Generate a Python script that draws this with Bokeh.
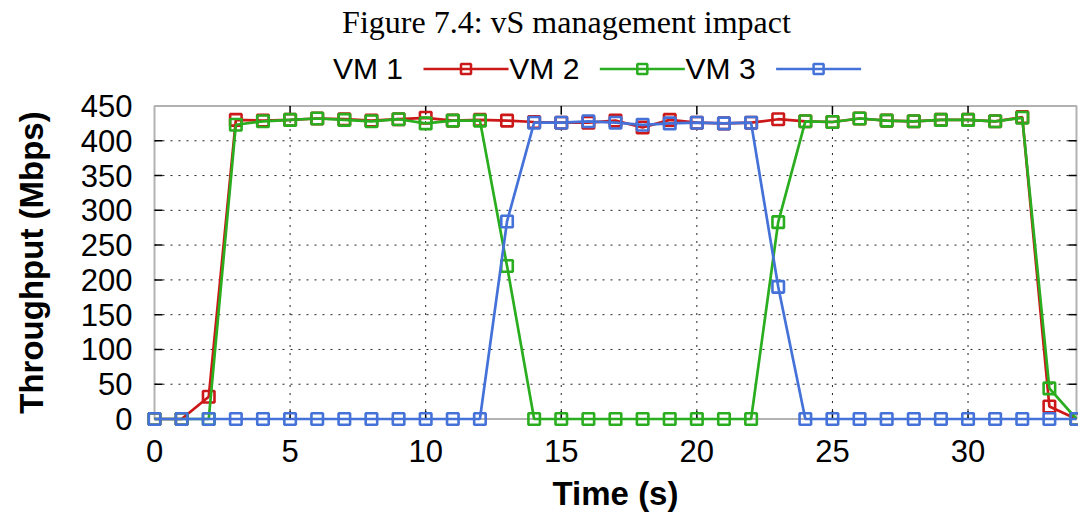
import math
from bokeh.plotting import figure
from bokeh.models import Range1d, BoxAnnotation
from bokeh.embed import file_html
from bokeh.resources import INLINE
from bokeh.core.properties import value

# ---------------- data ----------------
time_s = list(range(35))
vm1 = [0, 0, 32, 430, 429, 430, 432, 431, 429, 431, 433, 429, 430, 429, 427, 426, 426,
       429, 419, 430, 426, 425, 426, 431, 428, 427, 432, 429, 428, 430, 430, 428, 434, 18, 0]
vm2 = [0, 0, 0, 423, 428, 430, 432, 430, 428, 431, 425, 429, 429, 220, 0, 0, 0, 0, 0, 0,
       0, 0, 0, 283, 428, 427, 432, 429, 428, 430, 430, 428, 433, 44, 0]
vm3 = [0, 0, 0, 0, 0, 0, 0, 0, 0, 0, 0, 0, 0, 284, 426, 426, 428, 426, 423, 425, 426, 425,
       426, 190, 0, 0, 0, 0, 0, 0, 0, 0, 0, 0, 0]
series_names = ["VM 1", "VM 2", "VM 3"]
series_colors = ["#cc1818", "#2aad1e", "#4472d8"]
x_ticks = [0, 5, 10, 15, 20, 25, 30]
x_tick_labels = ["0", "5", "10", "15", "20", "25", "30"]
y_ticks = [0, 50, 100, 150, 200, 250, 300, 350, 400, 450]
y_tick_labels = ["0", "50", "100", "150", "200", "250", "300", "350", "400", "450"]
title_text = "Figure 7.4: vS management impact"
x_label = "Time (s)"
y_label = "Throughput (Mbps)"

SANS = "Liberation Sans"
SERIF = "Liberation Serif"

# ---------------- geometry (whole canvas is the frame) ----------------
W, H = 1078, 517
X_LEFT_PX, X_RIGHT_PX = 154, 1076     # pixel columns of x = 0 and x = 34
Y0_PX, Y450_PX = 418.5, 105.5         # pixel rows of y = 0 and y = 450
XLO, XHI = 0, 34
YLO, YHI = 0, 450
x_per_px = (XHI - XLO) / (X_RIGHT_PX - X_LEFT_PX)
y_per_px = (YHI - YLO) / (Y0_PX - Y450_PX)

def hx(px):
    return XLO + (px - X_LEFT_PX) * x_per_px

def hy(py):
    return YLO + (Y0_PX - py) * y_per_px

p = figure(width=W, height=H, x_range=Range1d(hx(0), hx(W)), y_range=Range1d(hy(H), hy(0)),
           output_backend="svg", toolbar_location=None,
           x_axis_type=None, y_axis_type=None,
           min_border_left=0, min_border_right=0, min_border_top=0, min_border_bottom=0)
p.outline_line_color = None
p.xgrid.visible = False
p.ygrid.visible = False

# ---- grid (dotted), inside the data box ----
gx = [t for t in x_ticks if XLO < t < XHI]
gy = [t for t in y_ticks if YLO < t < YHI]
p.segment(x0=gx, y0=[YLO] * len(gx), x1=gx, y1=[YHI] * len(gx),
          line_color="#222222", line_width=1, line_dash="2 6")
p.segment(x0=[XLO] * len(gy), y0=gy, x1=[XHI] * len(gy), y1=gy,
          line_color="#222222", line_width=1, line_dash="2 6")

# border of the data box
p.add_layout(BoxAnnotation(left=XLO, right=XHI, bottom=YLO, top=YHI, fill_alpha=0,
                           line_color="black", line_width=2, level="underlay"))

# inside ticks on all four sides
tly = 8 * y_per_px
tlx = 8 * x_per_px
p.segment(x0=gx, y0=[YLO] * len(gx), x1=gx, y1=[YLO + tly] * len(gx),
          line_color="black", line_width=1.5)
p.segment(x0=gx, y0=[YHI] * len(gx), x1=gx, y1=[YHI - tly] * len(gx),
          line_color="black", line_width=1.5)
p.segment(x0=[XLO] * len(gy), y0=gy, x1=[XLO + tlx] * len(gy), y1=gy,
          line_color="black", line_width=1.5)
p.segment(x0=[XHI] * len(gy), y0=gy, x1=[XHI - tlx] * len(gy), y1=gy,
          line_color="black", line_width=1.5)

# tick labels
p.text(x=x_ticks, y=[hy(450.5)] * len(x_ticks), text=x_tick_labels, text_font=value(SANS),
       text_font_size="31px", text_align="center", text_baseline="middle",
       text_color="black")
p.text(x=[hx(132)] * len(y_ticks), y=y_ticks, text=y_tick_labels, text_font=value(SANS),
       text_font_size="31px", text_align="right", text_baseline="middle",
       text_color="black")

# axis titles
p.text(x=[(XLO + XHI) / 2], y=[hy(493)], text=[x_label], text_font=value(SANS),
       text_font_size="33px", text_font_style="bold", text_align="center",
       text_baseline="middle", text_color="black")
p.text(x=[hx(31)], y=[(YLO + YHI) / 2], text=[y_label], angle=math.pi / 2,
       text_font=value(SANS), text_font_size="33px", text_font_style="bold",
       text_align="center", text_baseline="middle", text_color="black")

# ---- series ----
for ys, col in zip([vm1, vm2, vm3], series_colors):
    p.line(time_s, ys, line_color=col, line_width=2.7)
    p.scatter(time_s, ys, marker="square", size=11.5, fill_color=None,
              line_color=col, line_width=2.6)

# ---- title and key ----
p.text(x=[hx(566)], y=[hy(21)], text=[title_text], text_font=value(SERIF),
       text_font_size="32px", text_align="center", text_baseline="middle",
       text_color="black")
step = 176.3
for i, (nm, col) in enumerate(zip(series_names, series_colors)):
    bx = 332.5 + i * step
    p.text(x=[hx(bx)], y=[hy(67.9)], text=[nm], text_font=value(SANS),
           text_font_size="30px", text_align="left", text_baseline="middle",
           text_color="black")
    p.line(x=[hx(bx + 90.5), hx(bx + 175.5)], y=[hy(68.5), hy(68.5)],
           line_color=col, line_width=2.7)
    p.scatter(x=[hx(bx + 133)], y=[hy(68.5)], marker="square", size=10,
              fill_color=None, line_color=col, line_width=2.5)

open("out.html", "w").write(file_html(p, INLINE))
